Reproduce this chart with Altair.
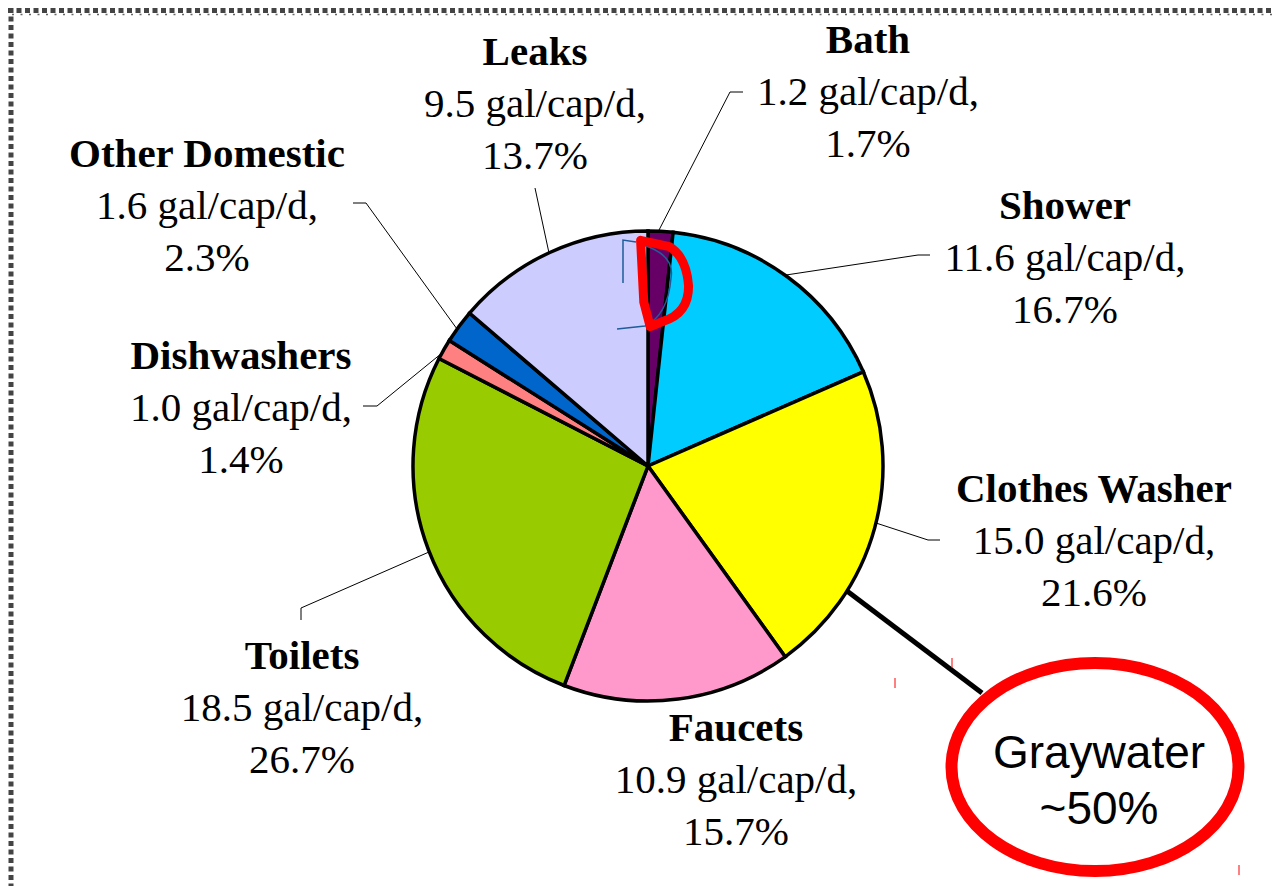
import altair as alt
import pandas as pd

# ---------------- data ----------------
categories = ["Bath", "Shower", "Clothes Washer", "Faucets", "Toilets",
              "Dishwashers", "Other Domestic", "Leaks"]
gal_per_cap = [1.2, 11.6, 15.0, 10.9, 18.5, 1.0, 1.6, 9.5]
percent = [1.7, 16.7, 21.6, 15.7, 26.7, 1.4, 2.3, 13.7]
colors = ["#660066", "#00CCFF", "#FFFF00", "#FF99CC", "#99CC00",
          "#FF8080", "#0066CC", "#CCCCFF"]
callout_lines = ["Graywater", "~50%"]

# ---------------- layout (reference pixel coords) ----------------
OFF = 8  # page margin
W, H = 1264, 878
CX, CY, R = 648, 466, 235
label_cx = [868, 1065, 1094, 736, 302, 241, 207, 535]
label_base = [53, 219, 502, 741, 669, 369, 167, 65]
LINE_H = 52
FS = 41
leaders = {
    "Bath": [(743, 92), (730, 92), (658, 232)],
    "Shower": [(930, 255), (918, 255), (786, 275)],
    "Clothes Washer": [(940, 540), (928, 540), (876, 523)],
    "Toilets": [(301, 620), (301, 608), (429, 552)],
    "Dishwashers": [(363, 406), (377, 406), (442, 353)],
    "Other Domestic": [(353, 203), (366, 203), (457, 329)],
    "Leaks": [(535, 188), (549, 253)],
}

df = pd.DataFrame({
    "cat": categories,
    "gal": gal_per_cap,
    "pct": percent,
    "idx": list(range(len(categories))),
    "lx": [x - OFF for x in label_cx],
    "ly": [y - OFF for y in label_base],
})
df["vals"] = [[f"{g:.1f} gal/cap/d,", f"{p:.1f}%"] for g, p in zip(gal_per_cap, percent)]
df["vy"] = df["ly"] + LINE_H

seg_rows = []
for name, pts in leaders.items():
    for (x1, y1), (x2, y2) in zip(pts[:-1], pts[1:]):
        seg_rows.append({"x": x1 - OFF, "y": y1 - OFF, "x2": x2 - OFF, "y2": y2 - OFF})
segs = pd.DataFrame(seg_rows)

one = pd.DataFrame({"a": [0]})

pie = alt.Chart(df).mark_arc(radius=R, stroke="black", strokeWidth=3.5).encode(
    theta=alt.Theta("pct:Q", stack=True),
    order=alt.Order("idx:Q"),
    color=alt.Color("cat:N", scale=alt.Scale(domain=categories, range=colors), legend=None),
    x=alt.value(CX - OFF),
    y=alt.value(CY - OFF),
)

names = alt.Chart(df).mark_text(
    font="Liberation Serif", fontSize=FS, fontWeight="bold",
    align="center", baseline="alphabetic", color="black"
).encode(
    x=alt.X("lx:Q", scale=None), y=alt.Y("ly:Q", scale=None), text="cat:N"
)

vals = alt.Chart(df).mark_text(
    font="Liberation Serif", fontSize=FS, lineHeight=LINE_H,
    align="center", baseline="alphabetic", color="black"
).encode(
    x=alt.X("lx:Q", scale=None), y=alt.Y("vy:Q", scale=None), text="vals"
)

leader_lines = alt.Chart(segs).mark_rule(color="black", strokeWidth=1).encode(
    x=alt.X("x:Q", scale=None), y=alt.Y("y:Q", scale=None),
    x2="x2:Q", y2="y2:Q"
)

# thick callout line from clothes washer to graywater ellipse
gw_line = alt.Chart(one).mark_rule(color="black", strokeWidth=5).encode(
    x=alt.value(847 - OFF), y=alt.value(591 - OFF),
    x2=alt.value(982 - OFF), y2=alt.value(693 - OFF)
)

k = 0.5523
a = 0.725
ka = round(k * a, 4)
ellipse_path = (f"M -1 0 C -1 {-ka} {-k} {-a} 0 {-a} C {k} {-a} 1 {-ka} 1 0 "
                f"C 1 {ka} {k} {a} 0 {a} C {-k} {a} -1 {ka} -1 0 Z")
ellipse = alt.Chart(one).mark_point(
    shape=ellipse_path, size=287 ** 2, filled=False, fill="white", stroke="#FF0000",
    strokeWidth=12, opacity=1
).encode(x=alt.value(1095 - OFF), y=alt.value(767 - OFF))

callout = alt.Chart(pd.DataFrame({"t": [callout_lines]})).mark_text(
    font="Liberation Sans", fontSize=46, lineHeight=56,
    align="center", baseline="alphabetic", color="black"
).encode(x=alt.value(1099 - OFF), y=alt.value(768 - OFF), text="t")

# hand-drawn highlight around the Bath slice
red_d = ("M -0.467 -0.911 L 0.133 -0.778 Q 0.49 -0.56 0.533 0.044 "
         "Q 0.533 0.622 0 0.778 L -0.267 0.889 L -0.4 0.378 Z")
red_mark = alt.Chart(one).mark_point(
    shape=red_d, size=96 ** 2, filled=False, stroke="#FF0000", strokeWidth=9,
    strokeJoin="round", opacity=1
).encode(x=alt.value(663 - OFF), y=alt.value(284 - OFF))

blue_path = ("M -0.489 -0.044 L -0.489 -1 L -0.2 -0.956 "
             "M -0.044 -0.889 Q 0.667 -0.667 0.578 -0.156 "
             "Q 0.511 0.667 0 0.911 L -0.622 0.978")
blue_mark = alt.Chart(one).mark_point(
    shape=blue_path, size=8100, filled=False, stroke="#1F5C99", strokeWidth=1.5,
    opacity=1
).encode(x=alt.value(645 - OFF), y=alt.value(285 - OFF))

# tiny red specks
specks = pd.DataFrame({"x": [952 - OFF, 895 - OFF, 1239 - OFF],
                       "y": [658 - OFF, 678 - OFF, 865 - OFF],
                       "y2": [668 - OFF, 688 - OFF, 875 - OFF]})
speck_marks = alt.Chart(specks).mark_rule(color="#FF0000", strokeWidth=1).encode(
    x=alt.X("x:Q", scale=None), y=alt.Y("y:Q", scale=None), y2="y2:Q"
)

# hatched frame on top and left edges
frame_top = alt.Chart(one).mark_rule(color="#444444", strokeWidth=5, strokeDash=[5, 3.5]).encode(
    x=alt.value(0), x2=alt.value(W), y=alt.value(2.5)
)
frame_top2 = alt.Chart(one).mark_rule(color="#666666", strokeWidth=1.5, strokeDash=[2, 6.5]).encode(
    x=alt.value(4), x2=alt.value(W), y=alt.value(6.5)
)
frame_left = alt.Chart(one).mark_rule(color="#444444", strokeWidth=5, strokeDash=[5, 3.5]).encode(
    x=alt.value(3), y=alt.value(0), y2=alt.value(H)
)

chart = alt.layer(
    frame_top, frame_top2, frame_left,
    pie, blue_mark, red_mark, leader_lines, gw_line, ellipse, callout,
    names, vals, speck_marks
).properties(
    width=W, height=H, padding=0, autosize="none"
).configure_view(stroke=None)

chart.save("out.html", embed_options={"renderer": "svg", "actions": False})
